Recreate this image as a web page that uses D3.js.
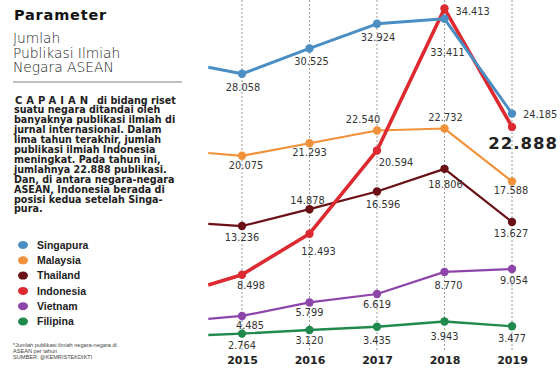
<!DOCTYPE html>
<html>
<head>
<meta charset="utf-8">
<script src="https://cdn.jsdelivr.net/npm/d3@7"></script>
<style>
  html, body { margin: 0; padding: 0; background: #fff; }
  svg { display: block; }
</style>
</head>
<body>
<svg id="chart" width="560" height="369"></svg>
<script>
// data
const years = [2015, 2016, 2017, 2018, 2019];
const countries = ["Singapura", "Malaysia", "Thailand", "Indonesia", "Vietnam", "Filipina"];
const singapura = [28.058, 30.525, 32.924, 33.411, 24.185];
const malaysia = [20.075, 21.293, 22.540, 22.732, 17.588];
const thailand = [13.236, 14.878, 16.596, 18.806, 13.627];
const indonesia = [8.498, 12.493, 20.594, 34.413, 22.888];
const vietnam = [4.485, 5.799, 6.619, 8.770, 9.054];
const filipina = [2.764, 3.120, 3.435, 3.943, 3.477];
// value where each line enters from the left edge (half a year before 2015)
const leadIn = [28.7, 20.35, 13.45, 7.5, 4.2, 2.63];

const titleLines = ["Jumlah", "Publikasi Ilmiah", "Negara ASEAN"];
const paragraph = [
  "di bidang riset",
  "suatu negara ditandai oleh",
  "banyaknya publikasi ilmiah di",
  "jurnal internasional. Dalam",
  "lima tahun terakhir, jumlah",
  "publikasi ilmiah Indonesia",
  "meningkat. Pada tahun ini,",
  "jumlahnya 22.888 publikasi.",
  "Dan, di antara negara-negara",
  "ASEAN, Indonesia berada di",
  "posisi kedua setelah Singa-",
  "pura."
];
const footnote = [
  "*Jumlah publikasi ilmiah negara-negara di",
  "ASEAN per tahun",
  "SUMBER: @KEMRISTEKDIKTI"
];

const colors = {
  Singapura: "#4b8ec4",
  Malaysia: "#f1913a",
  Thailand: "#6a1016",
  Indonesia: "#dc2a30",
  Vietnam: "#8d45aa",
  Filipina: "#1f8a4c"
};
const widths = { Singapura: 3, Malaysia: 2.2, Thailand: 2.2, Indonesia: 3.6, Vietnam: 2.2, Filipina: 2.4 };

// label offsets [dx, dy(baseline), anchor]
const offsets = {
  Singapura: [[1, 17, "middle"], [2, 17, "middle"], [1, 17, "middle"], [3, 37, "middle"], [11, 4, "start"]],
  Malaysia: [[4, 13, "middle"], [0, 13, "middle"], [-14, -7, "middle"], [1, -8, "middle"], [-1, 13, "middle"]],
  Thailand: [[0, 15, "middle"], [-2, -5, "middle"], [6, 16, "middle"], [1, 19, "middle"], [-1, 15, "middle"]],
  Indonesia: [[9, 14, "middle"], [9, 21, "middle"], [19, 16, "middle"], [11, 6, "start"], [46, 22, "end"]],
  Vietnam: [[8, 13, "middle"], [0, 14, "middle"], [0, 14, "middle"], [4, 17, "middle"], [2, 15, "middle"]],
  Filipina: [[0, 15, "middle"], [0, 14, "middle"], [0, 17, "middle"], [0, 19, "middle"], [0, 16, "middle"]]
};

const seriesValues = {
  Singapura: singapura, Malaysia: malaysia, Thailand: thailand,
  Indonesia: indonesia, Vietnam: vietnam, Filipina: filipina
};

const svg = d3.select("#chart");
const fmt = d3.format(".3f");

// ---------- left panel ----------
svg.append("text")
  .attr("x", 14).attr("y", 20)
  .attr("font-family", "DejaVu Sans").attr("font-weight", 900)
  .attr("font-size", 14.5).attr("letter-spacing", 0.8)
  .attr("fill", "#111")
  .text("Parameter");

titleLines.forEach((t, i) => {
  svg.append("text")
    .attr("x", 13).attr("y", 43 + i * 14.6)
    .attr("font-family", "DejaVu Sans").attr("font-weight", 200)
    .attr("font-size", 13.8).attr("fill", "#222")
    .text(t);
});

svg.append("line")
  .attr("x1", 13).attr("x2", 182).attr("y1", 82).attr("y2", 82)
  .attr("stroke", "#aaa").attr("stroke-width", 1.5);

const para = svg.append("g")
  .attr("font-family", "DejaVu Sans").attr("font-weight", "bold")
  .attr("font-size", 9.6).attr("fill", "#222");
para.append("text")
  .attr("x", 15).attr("y", 103.5)
  .attr("font-weight", 900)
  .attr("font-size", 10).attr("letter-spacing", 4)
  .text("CAPAIAN");
paragraph.forEach((t, i) => {
  para.append("text")
    .attr("x", i === 0 ? 97 : 14).attr("y", 103.5 + i * 9.9)
    .text(t);
});

// legend
const legend = svg.append("g");
countries.forEach((c, i) => {
  const y = 245 + i * 15.3;
  legend.append("ellipse")
    .attr("cx", 23).attr("cy", y).attr("rx", 5).attr("ry", 4)
    .attr("fill", colors[c]);
  legend.append("text")
    .attr("x", 37).attr("y", y + 3.7)
    .attr("font-family", "Liberation Sans").attr("font-weight", "bold")
    .attr("font-size", 10.5).attr("fill", "#222")
    .text(c);
});

footnote.forEach((t, i) => {
  svg.append("text")
    .attr("x", 13).attr("y", 347 + i * 5.8)
    .attr("font-family", "Liberation Sans").attr("font-size", 5.6)
    .attr("fill", "#444")
    .text(t);
});

// ---------- chart ----------
const x = d3.scaleLinear().domain([2015, 2019]).range([242, 512]);
const y = d3.scaleLinear().domain([0, 35]).range([362, 2.5]);

// dotted year gridlines
svg.append("g").selectAll("line")
  .data(years).enter().append("line")
  .attr("x1", d => x(d)).attr("x2", d => x(d))
  .attr("y1", 0).attr("y2", 352)
  .attr("stroke", "#9a9a9a").attr("stroke-width", 1)
  .attr("stroke-dasharray", "2,2");

// year axis labels
const xAxis = d3.axisBottom(x).tickValues(years).tickFormat(d3.format("d")).tickSize(0);
const axisG = svg.append("g").attr("transform", "translate(0,353)").call(xAxis);
axisG.select(".domain").remove();
axisG.selectAll("text")
  .attr("font-family", "DejaVu Sans").attr("font-weight", "bold")
  .attr("font-size", 11).attr("fill", "#222").attr("dy", "0.7em");

const line = d3.line().x(d => x(d.year)).y(d => y(d.value));

const drawOrder = ["Filipina", "Vietnam", "Thailand", "Malaysia", "Indonesia", "Singapura"];
drawOrder.forEach(c => {
  const vals = seriesValues[c];
  const idx = countries.indexOf(c);
  const pts = [{ year: 2014.5, value: leadIn[idx] }]
    .concat(years.map((yr, i) => ({ year: yr, value: vals[i] })));
  const g = svg.append("g").attr("class", "series");
  g.append("path")
    .datum(pts)
    .attr("fill", "none")
    .attr("stroke", colors[c])
    .attr("stroke-width", widths[c])
    .attr("stroke-linejoin", "round")
    .attr("d", line);
  g.selectAll("circle")
    .data(pts.slice(1)).enter().append("circle")
    .attr("cx", d => x(d.year)).attr("cy", d => y(d.value))
    .attr("r", 4.2)
    .attr("fill", colors[c]);
});

// value labels
countries.forEach(c => {
  const vals = seriesValues[c];
  vals.forEach((v, i) => {
    const o = offsets[c][i];
    const big = c === "Indonesia" && i === 4;
    svg.append("text")
      .attr("x", x(years[i]) + o[0])
      .attr("y", y(v) + o[1])
      .attr("text-anchor", o[2])
      .attr("font-family", "DejaVu Sans")
      .attr("font-weight", big ? "bold" : "normal")
      .attr("font-size", big ? 16.5 : 9.8)
      .attr("letter-spacing", big ? 1 : 0)
      .attr("fill", big ? "#222" : "#333")
      .text(fmt(v));
  });
});
</script>
</body>
</html>
